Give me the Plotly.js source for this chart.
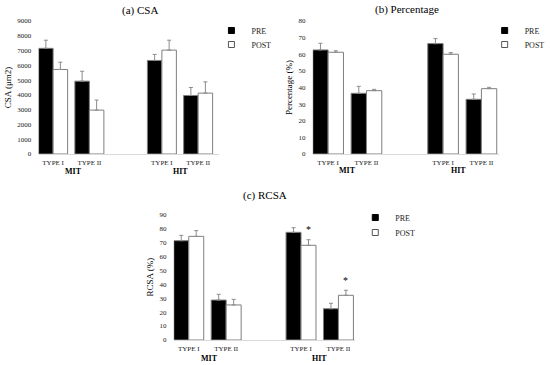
<!DOCTYPE html>
<html>
<head>
<meta charset="utf-8">
<script src="https://cdn.plot.ly/plotly-3.0.1.min.js"></script>
<style>html,body{margin:0;padding:0;background:#fff;}#chart{width:550px;height:365px;}</style>
</head>
<body>
<div id="chart"></div>
<script>
// ---- data ----
const groups = ["MIT", "HIT"];
const typeLabels = ["TYPE I", "TYPE II", "TYPE I", "TYPE II"];
const seriesNames = ["PRE", "POST"];

// (a) CSA (µm2)
const csaPre = [7150, 4930, 6330, 3960];
const csaPreErr = [550, 670, 410, 540];
const csaPost = [5720, 2970, 7030, 4120];
const csaPostErr = [490, 680, 670, 760];

// (b) Percentage (%)
const pctPre = [62.6, 36.5, 66.4, 32.9];
const pctPreErr = [4.0, 4.2, 3.0, 3.2];
const pctPost = [61.2, 38.1, 60.0, 39.3];
const pctPostErr = [0.9, 0.8, 1.0, 0.8];

// (c) RCSA (%)
const rcsaPre = [71.1, 28.6, 77.1, 22.4];
const rcsaPreErr = [3.8, 4.1, 3.3, 3.9];
const rcsaPost = [74.2, 25.1, 67.8, 32.0];
const rcsaPostErr = [4.1, 4.0, 4.0, 3.6];
const rcsaStarIdx = [2, 3]; // significant POST bars

// ---- build ----
const FONT = "Liberation Serif, Times New Roman, serif";
// category index -> axis position (a gap slot between MIT and HIT groups)
const xPos = typeLabels.map((_, i) => i + (i >= 2 ? 1 : 0));
const zeros = typeLabels.map(() => 0);
const styles = [
  {fill: "#000000", line: "#7f7f7f"},
  {fill: "#ffffff", line: "#7f7f7f"}
];

function panel(pre, preErr, post, postErr, ax, legs) {
  const vals = [[pre, preErr], [post, postErr]];
  const out = [];
  vals.forEach(([v, e], s) => {
    out.push({type: "bar", name: seriesNames[s], x: xPos, y: v, xaxis: "x" + ax, yaxis: "y" + ax,
      offsetgroup: seriesNames[s] + ax, showlegend: false, hoverinfo: "skip",
      marker: {color: styles[s].fill, line: {color: styles[s].line, width: 1}},
      error_y: {type: "data", symmetric: false, array: e, arrayminus: zeros,
        color: "#8c8c8c", thickness: 1, width: 2}});
  });
  // legend entries (small square keys, as in the reference)
  vals.forEach((_, s) => {
    out.push({type: "scatter", mode: "markers", name: seriesNames[s], x: [null], y: [null],
      xaxis: "x" + ax, yaxis: "y" + ax, legend: legs[s], showlegend: true, hoverinfo: "skip",
      marker: {symbol: "square", size: 6, color: styles[s].fill,
        line: {color: s === 0 ? "#000" : "#555", width: 1}}});
  });
  return out;
}

const traces = [].concat(
  panel(csaPre, csaPreErr, csaPost, csaPostErr, "", ["legend", "legend2"]),
  panel(pctPre, pctPreErr, pctPost, pctPostErr, "2", ["legend3", "legend4"]),
  panel(rcsaPre, rcsaPreErr, rcsaPost, rcsaPostErr, "3", ["legend5", "legend6"])
);

const W = 550, H = 365;
const px = v => v / W, py = v => 1 - v / H;

function xa(d0, d1, range, anchor) {
  return {domain: [px(d0), px(d1)], range: range, anchor: anchor, tickmode: "array", tickvals: xPos,
    ticktext: typeLabels, showline: true, linecolor: "#d9d9d9", linewidth: 1,
    ticks: "outside", ticklen: 2, tickcolor: "rgba(0,0,0,0)", showgrid: false, zeroline: false,
    fixedrange: true, tickfont: {family: FONT, size: 7, color: "#222"}};
}
function ya(top, bot, range, dtick, title, anchor) {
  return {domain: [py(bot), py(top)], range: range, dtick: dtick, anchor: anchor, showgrid: false,
    zeroline: false, showline: false, ticks: "outside", ticklen: 5, tickcolor: "rgba(0,0,0,0)",
    fixedrange: true, tickfont: {family: FONT, size: 7, color: "#222"},
    title: {text: title, font: {family: FONT, size: 9, color: "#000"}, standoff: 4}};
}

function legendAt(x, y) {
  return {x: px(x), y: py(y), xanchor: "left", yanchor: "top", bgcolor: "rgba(0,0,0,0)",
    font: {family: FONT, size: 8, color: "#222"}, itemwidth: 30, tracegroupgap: 0,
    borderwidth: 0};
}

const annotations = [
  {text: "(a) CSA", x: px(145), y: py(10)},
  {text: "(b) Percentage", x: px(422), y: py(9)},
  {text: "(c) RCSA", x: px(274), y: py(195)}
].map(a => Object.assign(a, {xref: "paper", yref: "paper", showarrow: false,
  xanchor: "center", yanchor: "middle", font: {family: FONT, size: 11, color: "#000"}}));

// group labels under tick labels
[["", 0.55, 3.5, 171], ["2", 0.5, 3.4, 170], ["3", 0.55, 3.5, 358]].forEach(([ax, m, h, yy]) => {
  [m, h].forEach((xv, gi) => annotations.push({text: "<b>" + groups[gi] + "</b>", xref: "x" + ax,
    yref: "paper", x: xv, y: py(yy), showarrow: false, xanchor: "center", yanchor: "middle",
    font: {family: FONT, size: 8, color: "#000"}}));
});

// significance stars on RCSA POST bars
rcsaStarIdx.forEach(i => annotations.push({text: "*", xref: "x3", yref: "y3",
  x: xPos[i] + 0.2, y: rcsaPost[i] + rcsaPostErr[i] + 7, showarrow: false,
  xanchor: "center", yanchor: "middle", font: {family: FONT, size: 10, color: "#000"}}));

const layout = {
  width: W, height: H, margin: {l: 0, r: 0, t: 0, b: 0, pad: 0},
  paper_bgcolor: "#fff", plot_bgcolor: "rgba(0,0,0,0)",
  barmode: "group", bargap: 0.2, bargroupgap: 0,
  font: {family: FONT},
  showlegend: true,
  xaxis: xa(40, 227, [-0.4, 4.58], "y"),
  yaxis: ya(21, 154, [0, 9000], 1000, "CSA (μm2)", "x"),
  xaxis2: xa(324, 516.5, [-0.4, 4.45], "y2"),
  yaxis2: ya(21, 154, [0, 80], 10, "Percentage (%)", "x2"),
  xaxis3: xa(180, 368, [-0.4, 4.45], "y3"),
  yaxis3: ya(214.3, 340, [0, 90], 10, "RCSA (%)", "x3"),
  legend: legendAt(219, 16),
  legend2: legendAt(219, 30),
  legend3: legendAt(502, 16),
  legend4: legendAt(502, 30),
  legend5: legendAt(368, 203),
  legend6: legendAt(368, 218),
  annotations: annotations
};

Plotly.newPlot("chart", traces, layout, {staticPlot: true, displayModeBar: false});
</script>
</body>
</html>
